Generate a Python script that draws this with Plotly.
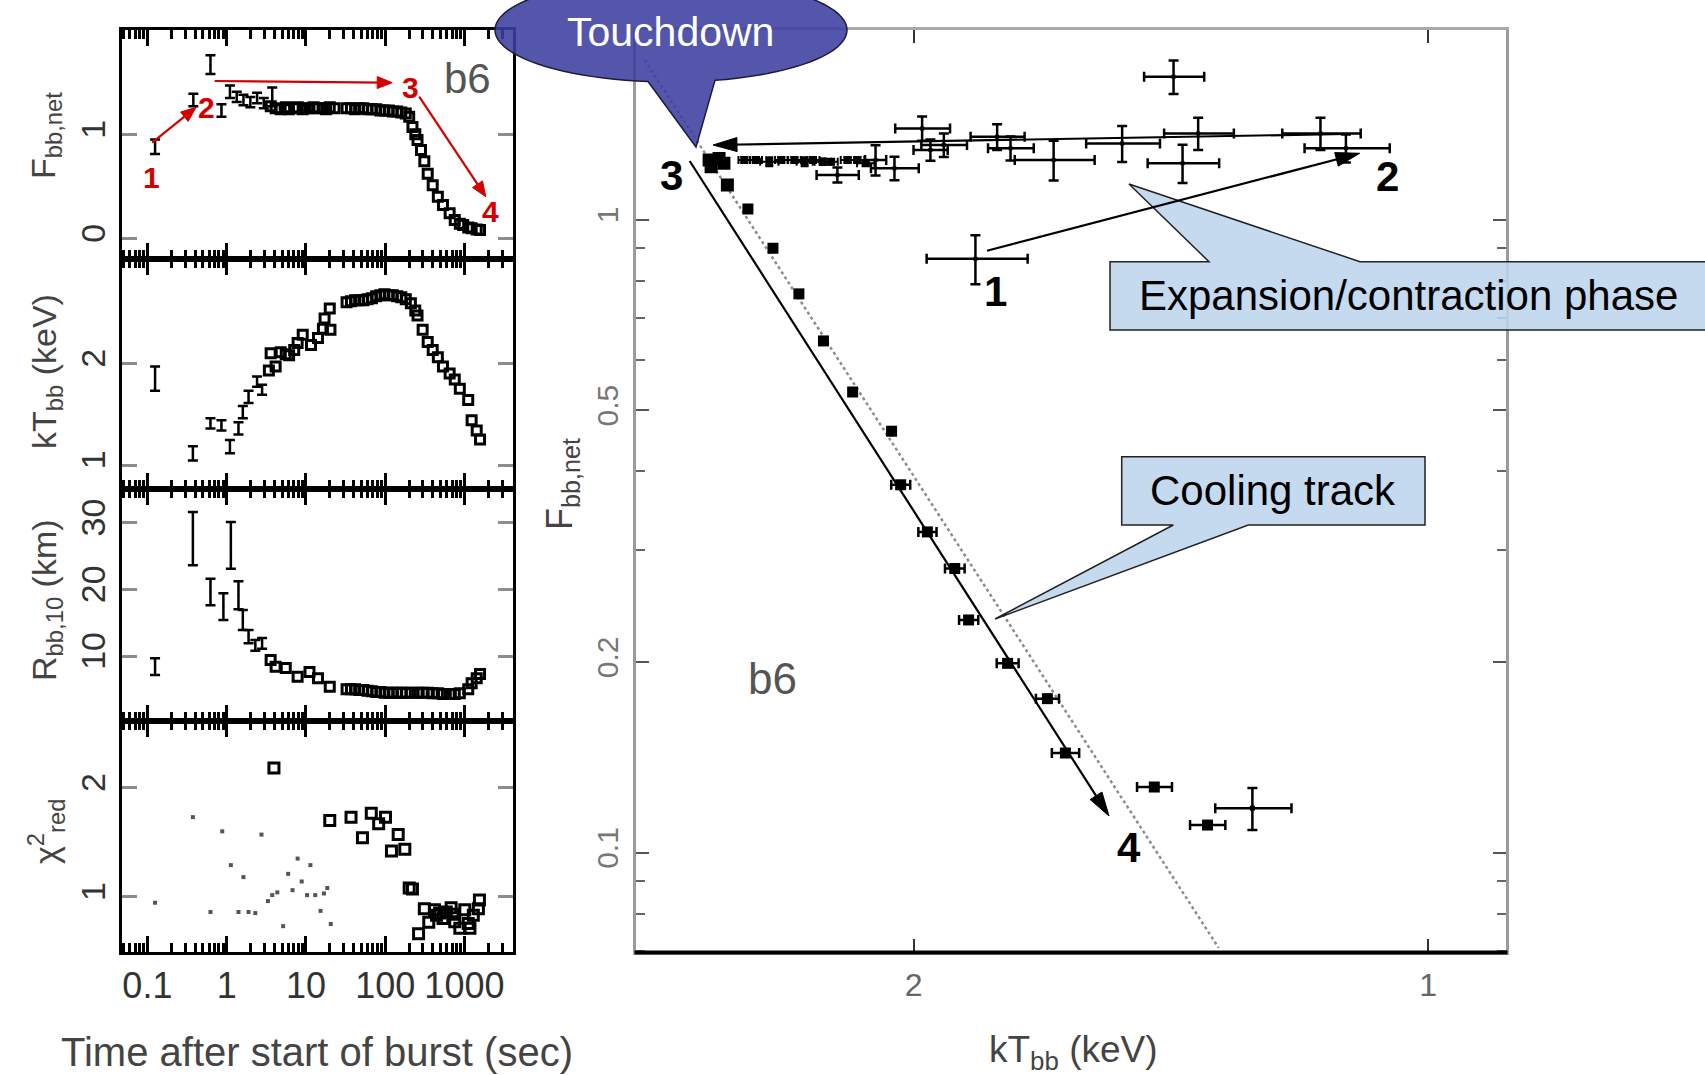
import math
import plotly.graph_objects as go

W, H = 1705, 1075
FONT = "Liberation Sans, Arial, Helvetica, sans-serif"

# ---------------- Left column: time-resolved blackbody fits (burst b6) ----------------
time_ticks = [0.1, 1, 10, 100, 1000]
time_labels = ["0.1", "1", "10", "100", "1000"]

# Bolometric flux F_bb,net
t_flux_early = [0.125, 0.38, 0.625, 0.86, 1.10, 1.34, 1.63, 1.99, 2.42, 2.94, 3.76]
flux_early = [0.88, 1.33, 1.67, 1.23, 1.41, 1.36, 1.33, 1.31, 1.35, 1.30, 1.36]
flux_early_err = [0.07, 0.06, 0.09, 0.06, 0.06, 0.05, 0.05, 0.05, 0.05, 0.05, 0.09]
t_flux = [3.6, 4.15, 4.8, 5.6, 6.1, 7.1, 7.9, 9.1, 10.0, 11.1, 12.5, 14.2, 16.4, 18.0, 20.0, 23.0,
          32.6, 37, 41.7, 47, 53, 60, 68, 77, 87, 98, 111, 125, 142, 160, 182,
          201, 221, 240, 256, 283, 312, 344, 398, 462, 536, 651, 755, 875, 966, 1117, 1233, 1429, 1574]
flux = [1.27, 1.25, 1.24, 1.26, 1.24, 1.25, 1.26, 1.24, 1.25, 1.25, 1.26, 1.25, 1.25, 1.24, 1.26, 1.25,
        1.25, 1.25, 1.24, 1.25, 1.25, 1.24, 1.24, 1.24, 1.23, 1.23, 1.23, 1.22, 1.22, 1.21, 1.20,
        1.17, 1.07, 1.00, 0.945, 0.85, 0.74, 0.62, 0.51, 0.40, 0.32, 0.24, 0.176, 0.14, 0.128, 0.105,
        0.096, 0.085, 0.08]

# Blackbody temperature kT_bb (keV)
t_kt_early = [0.125, 0.375, 0.625, 0.86, 1.10, 1.41, 1.60, 1.89, 2.42, 2.80]
kt_early = [1.85, 1.115, 1.41, 1.39, 1.18, 1.36, 1.52, 1.67, 1.82, 1.74]
kt_early_err = [0.12, 0.07, 0.05, 0.05, 0.065, 0.06, 0.06, 0.06, 0.05, 0.05]
t_kt = [3.41, 3.59, 4.15, 4.81, 5.57, 6.14, 7.12, 7.86, 9.12, 11.6, 14.2, 16.4, 17.2, 20.0, 20.4,
        32.6, 37, 41.7, 47, 53, 60, 68, 77, 87, 98, 111, 125, 142, 160, 182,
        211, 240, 256, 297, 344, 398, 462, 536, 651, 755, 875, 1117, 1233, 1429, 1574]
kt = [1.93, 2.10, 1.97, 2.11, 2.09, 2.08, 2.13, 2.20, 2.28, 2.18, 2.25, 2.34, 2.44, 2.54, 2.33,
      2.60, 2.61, 2.62, 2.62, 2.62, 2.63, 2.64, 2.66, 2.67, 2.68, 2.67, 2.67, 2.66, 2.65, 2.63,
      2.59, 2.52, 2.47, 2.33, 2.21, 2.13, 2.06, 1.97, 1.90, 1.84, 1.75, 1.64, 1.44, 1.34, 1.25]

# Blackbody radius R_bb,10 (km)
t_rad_early = [0.125, 0.375, 0.625, 0.91, 1.13, 1.41, 1.60, 1.89, 2.30, 2.80]
rad_early = [8.4, 27.6, 19.6, 17.4, 26.6, 19.1, 15.4, 12.9, 11.6, 11.9]
rad_early_err = [1.25, 4.0, 2.0, 2.0, 3.5, 2.1, 1.5, 1.0, 0.8, 0.8]
t_rad = [3.59, 4.15, 5.57, 7.86, 11.1, 14.2, 20.0,
         32.6, 37, 41.7, 47, 53, 60, 68, 77, 87, 98, 111, 125, 142, 160, 182,
         211, 256, 297, 344, 398, 462, 536, 651, 755, 875, 1117, 1233, 1429, 1574]
rad = [9.4, 8.4, 8.2, 6.9, 7.6, 6.65, 5.4,
       5.0, 5.0, 5.0, 4.9, 4.9, 4.8, 4.7, 4.6, 4.6, 4.5, 4.5, 4.5, 4.5, 4.5, 4.5,
       4.5, 4.5, 4.5, 4.5, 4.4, 4.4, 4.3, 4.3, 4.3, 4.4, 5.0, 5.9, 6.65, 7.3]

# Reduced chi-square of each fit
t_chi_dot = [0.125, 0.375, 0.625, 0.88, 1.13, 1.41, 1.63, 1.89, 2.30, 2.75, 3.32, 3.76, 4.36,
             5.16, 5.97, 6.78, 7.86, 8.85, 10.35, 11.4, 13.1, 15.3, 16.9, 18.6, 20.6]
chi_dot = [0.945, 1.73, 0.86, 1.60, 1.29, 0.86, 1.18, 0.86, 0.85, 1.57, 0.96, 1.015, 1.04,
           0.73, 1.21, 1.06, 1.35, 1.14, 1.015, 1.29, 1.015, 0.87, 1.03, 1.08, 0.75]
t_chi_sq = [3.95, 20.0, 37.1, 51.7, 66.8, 82.8, 101, 120, 146, 177, 201, 221, 264, 312, 355,
            419, 445, 486, 536, 590, 680, 720, 755, 875, 1012, 1117, 1174, 1295, 1501, 1546]
chi_sq = [2.18, 1.70, 1.73, 1.54, 1.765, 1.67, 1.73, 1.42, 1.57, 1.435, 1.08, 1.07, 0.66, 0.89, 0.765,
          0.88, 0.83, 0.85, 0.80, 0.86, 0.90, 0.84, 0.77, 0.71, 0.88, 0.755, 0.71, 0.83, 0.89, 0.97]

# ---------------- Right: flux versus temperature ----------------
flux_ticks = [0.1, 0.2, 0.5, 1]
flux_labels = ["0.1", "0.2", "0.5", "1"]
flux_minor = [0.07, 0.08, 0.09, 0.3, 0.4, 0.6, 0.7, 0.8, 0.9]
kt_ticks = [1, 2]
kt_labels = ["1", "2"]

# expansion / contraction phase
exp_kt = [1.84, 1.409, 1.392, 1.363, 1.510, 1.656, 1.755, 1.787, 1.920, 1.955, 1.977, 2.052,
          2.105, 2.216, 1.117, 1.156]
exp_flux = [0.867, 1.681, 1.227, 1.368, 1.319, 1.242, 1.296, 1.351, 1.311, 1.288, 1.393, 1.205,
            1.242, 1.176, 1.296, 1.368]
exp_kt_err = [0.125, 0.057, 0.067, 0.064, 0.075, 0.089, 0.054, 0.065, 0.059, 0.045, 0.073, 0.066,
              0.030, 0.063, 0.064, 0.061]
exp_flux_err = [0.077, 0.102, 0.085, 0.080, 0.086, 0.090, 0.057, 0.063, 0.056, 0.050, 0.061, 0.051,
                0.068, 0.032, 0.066, 0.080]
# bright, short error-bar points just before touchdown
row_kt = [2.512, 2.473, 2.429, 2.390, 2.348, 2.316, 2.290, 2.260, 2.235, 2.186, 2.157, 2.133]
row_flux = [1.242, 1.242, 1.234, 1.242, 1.242, 1.234, 1.242, 1.234, 1.234, 1.242, 1.242, 1.227]
row_kt_err = [0.02, 0.02, 0.03, 0.02, 0.02, 0.025, 0.02, 0.025, 0.02, 0.02, 0.02, 0.025]
row_flux_err = [0.012, 0.012, 0.02, 0.012, 0.012, 0.02, 0.012, 0.015, 0.012, 0.012, 0.012, 0.012]
# touchdown
td_kt = [2.634, 2.599, 2.582, 2.627, 2.570]
td_flux = [1.242, 1.249, 1.227, 1.212, 1.134]
# cooling track
cool_kt = [2.500, 2.417, 2.334, 2.258, 2.171, 2.060, 2.035, 1.963, 1.892, 1.857, 1.762, 1.670,
           1.630, 1.446, 1.346]
cool_flux = [1.039, 0.901, 0.763, 0.643, 0.534, 0.463, 0.381, 0.321, 0.281, 0.233, 0.199, 0.175,
             0.1436, 0.1269, 0.1105]
cool_kt_err = [0.0, 0.0, 0.0, 0.0, 0.0, 0.0, 0.026, 0.024, 0.025, 0.024, 0.026, 0.026,
               0.03, 0.034, 0.032]
late_kt = [1.267]
late_flux = [0.1175]
late_kt_err = [0.065]
late_flux_err = [0.009]
# F proportional to kT^4 reference line
slope_kt = [2.873, 1.326]
slope_flux = [1.787, 0.0707]


def px(x):
    return x / W


def py(y):
    return 1 - y / H


fig = go.Figure()

left_dom = [px(122), px(513)]
edges = [29.5, 258.8, 489.0, 721.0, 952.0]
EB = dict(type="data", color="black", thickness=2, width=4)
EB2 = dict(type="data", color="black", thickness=2.5, width=5)
SQ_OPEN = dict(symbol="square-open", size=9, color="black", line=dict(width=3))

# panel 1: flux
fig.add_trace(go.Scatter(x=t_flux_early, y=flux_early, mode="markers",
                         marker=dict(size=2, color="black"),
                         error_y=dict(EB2, array=flux_early_err), xaxis="x", yaxis="y"))
fig.add_trace(go.Scatter(x=t_flux, y=flux, mode="markers", marker=SQ_OPEN, xaxis="x", yaxis="y"))
# panel 2: temperature
fig.add_trace(go.Scatter(x=t_kt_early, y=kt_early, mode="markers",
                         marker=dict(size=2, color="black"),
                         error_y=dict(EB2, array=kt_early_err), xaxis="x2", yaxis="y2"))
fig.add_trace(go.Scatter(x=t_kt, y=kt, mode="markers", marker=SQ_OPEN, xaxis="x2", yaxis="y2"))
# panel 3: radius
fig.add_trace(go.Scatter(x=t_rad_early, y=rad_early, mode="markers",
                         marker=dict(size=2, color="black"),
                         error_y=dict(EB2, array=rad_early_err), xaxis="x3", yaxis="y3"))
fig.add_trace(go.Scatter(x=t_rad, y=rad, mode="markers", marker=SQ_OPEN, xaxis="x3", yaxis="y3"))
# panel 4: reduced chi-square
fig.add_trace(go.Scatter(x=t_chi_dot, y=chi_dot, mode="markers",
                         marker=dict(symbol="square", size=4, color="#555"),
                         xaxis="x4", yaxis="y4"))
fig.add_trace(go.Scatter(x=t_chi_sq, y=chi_sq, mode="markers",
                         marker=dict(symbol="square-open", size=10, color="black", line=dict(width=3)),
                         xaxis="x4", yaxis="y4"))

# right panel
fig.add_trace(go.Scatter(x=slope_kt, y=slope_flux, mode="lines",
                         line=dict(color="#8c8c8c", width=2.5, dash="dot"), xaxis="x5", yaxis="y5"))
fig.add_trace(go.Scatter(x=exp_kt, y=exp_flux, mode="markers",
                         marker=dict(symbol="square", size=4, color="black"),
                         error_x=dict(EB2, array=exp_kt_err), error_y=dict(EB2, array=exp_flux_err),
                         xaxis="x5", yaxis="y5"))
fig.add_trace(go.Scatter(x=row_kt, y=row_flux, mode="markers",
                         marker=dict(symbol="square", size=8, color="black"),
                         error_x=dict(EB, array=row_kt_err), error_y=dict(EB, array=row_flux_err),
                         xaxis="x5", yaxis="y5"))
fig.add_trace(go.Scatter(x=td_kt, y=td_flux, mode="markers",
                         marker=dict(symbol="square", size=13, color="black"),
                         xaxis="x5", yaxis="y5"))
fig.add_trace(go.Scatter(x=cool_kt, y=cool_flux, mode="markers",
                         marker=dict(symbol="square", size=11, color="black"),
                         error_x=dict(EB2, array=cool_kt_err),
                         xaxis="x5", yaxis="y5"))
fig.add_trace(go.Scatter(x=late_kt, y=late_flux, mode="markers",
                         marker=dict(symbol="square", size=5, color="black"),
                         error_x=dict(EB2, array=late_kt_err), error_y=dict(EB2, array=late_flux_err),
                         xaxis="x5", yaxis="y5"))

# ---------------- axes ----------------
minor_time = [m * 10.0 ** e for e in range(-2, 4) for m in range(2, 10)
              if 0.048 < m * 10.0 ** e < 4100]


def left_x(anchor, labels):
    return dict(type="log", range=[-1.3203, 3.6129], domain=left_dom, anchor=anchor,
                showline=True, linecolor="black", linewidth=3, mirror="ticks",
                ticks="inside", ticklen=16, tickwidth=2.5, tickcolor="black",
                tickmode="array", tickvals=time_ticks, ticktext=time_labels,
                showticklabels=labels, ticklabelstandoff=0,
                tickfont=dict(size=36, color="#333", family=FONT),
                minor=dict(ticks="inside", ticklen=9, tickwidth=2.5, tickcolor="black",
                           tickmode="array", tickvals=minor_time),
                showgrid=False, zeroline=False)


def left_y(idx, rng, vals, anchor):
    return dict(range=rng, domain=[py(edges[idx + 1]), py(edges[idx])], anchor=anchor,
                showline=True, linecolor="black", linewidth=3, mirror="ticks",
                ticks="inside", ticklen=15, tickwidth=3, tickcolor="#8c8c8c",
                tickmode="array", tickvals=vals, tickangle=-90, ticklabelstandoff=0,
                tickfont=dict(size=34, color="#333", family=FONT),
                showgrid=False, zeroline=False)


fig.update_layout(
    xaxis=left_x("y", False), yaxis=left_y(0, [-0.197, 2.008], [0, 1], "x"),
    xaxis2=left_x("y2", False), yaxis2=left_y(1, [0.764, 3.028], [1, 2], "x2"),
    xaxis3=left_x("y3", False), yaxis3=left_y(2, [0.255, 35.04], [10, 20, 30], "x3"),
    xaxis4=left_x("y4", True), yaxis4=left_y(3, [0.493, 2.612], [1, 2], "x4"),
    xaxis5=dict(type="log", range=[0.4634, -0.0456], domain=[px(636), px(1506)], anchor="y5",
                showline=True, linecolor="#a8a8a8", linewidth=3, mirror="ticks",
                ticks="inside", ticklen=13, tickwidth=2, tickcolor="#333",
                tickmode="array", tickvals=kt_ticks, ticktext=kt_labels, ticklabelstandoff=3,
                tickfont=dict(size=32, color="#666", family=FONT),
                showgrid=False, zeroline=False),
    yaxis5=dict(type="log", range=[-1.1572, 0.3002], domain=[py(952), py(29.5)], anchor="x5",
                showline=True, linecolor="#9a9a9a", linewidth=3, mirror="ticks",
                ticks="inside", ticklen=13, tickwidth=2, tickcolor="#555",
                tickmode="array", tickvals=flux_ticks, ticktext=flux_labels, tickangle=-90,
                ticklabelstandoff=3, tickfont=dict(size=30, color="#777", family=FONT),
                minor=dict(ticks="inside", ticklen=9, tickwidth=2, tickcolor="#666",
                           tickmode="array", tickvals=flux_minor),
                showgrid=False, zeroline=False),
)

# ---------------- callout and arrow shapes ----------------


def path_str(points):
    return "M " + " L ".join(f"{px(x):.5f},{py(y):.5f}" for x, y in points) + " Z"


def bubble(cx, cy, rx, ry, base_left_x, base_right_x, tip, n=90):
    def angle(bx):
        dx = (bx - cx) / rx
        return math.atan2(math.sqrt(max(0.0, 1 - dx * dx)), dx)
    a0 = angle(base_right_x)
    a1 = angle(base_left_x) - 2 * math.pi
    pts = []
    for i in range(n + 1):
        a = a0 + (a1 - a0) * i / n
        pts.append((cx + rx * math.cos(a), cy + ry * math.sin(a)))
    pts.append(tip)
    return path_str(pts)


def arrow(head, tail, color, width, head_len, head_wid):
    hx, hy = head
    tx, ty = tail
    d = math.hypot(hx - tx, hy - ty)
    ux, uy = (hx - tx) / d, (hy - ty) / d
    bx, by = hx - head_len * ux, hy - head_len * uy
    nx, ny = -uy, ux
    line_end = (hx - 0.6 * head_len * ux, hy - 0.6 * head_len * uy)
    return [
        dict(type="line", xref="paper", yref="paper", x0=px(tx), y0=py(ty),
             x1=px(line_end[0]), y1=py(line_end[1]), line=dict(color=color, width=width), layer="above"),
        dict(type="path", xref="paper", yref="paper",
             path=path_str([(hx, hy), (bx + nx * head_wid / 2, by + ny * head_wid / 2),
                            (bx - nx * head_wid / 2, by - ny * head_wid / 2)]),
             fillcolor=color, line=dict(color=color, width=1), layer="above"),
    ]


RED = "#d40000"
shapes = [
    # bottom axis of the right panel drawn black
    dict(type="line", xref="paper", yref="paper", x0=px(634.5), x1=px(1507.5), y0=py(952.5), y1=py(952.5),
         line=dict(color="black", width=4), layer="above"),
    dict(type="path", xref="paper", yref="paper",
         path=bubble(671, 30, 176, 52, 648, 715, (696, 147)),
         fillcolor="rgba(60,63,160,0.88)", line=dict(color="#1c1c3c", width=1.5), layer="above"),
    dict(type="path", xref="paper", yref="paper",
         path=path_str([(1110, 261.7), (1209, 261.7), (1129, 184), (1360, 261.7), (1760, 261.7),
                        (1760, 330), (1110, 330)]),
         fillcolor="rgba(189,213,236,0.88)", line=dict(color="#222", width=1.5), layer="above"),
    dict(type="path", xref="paper", yref="paper",
         path=path_str([(1121.7, 456.7), (1425, 456.7), (1425, 525), (1248.3, 525), (995, 619),
                        (1173.3, 525), (1121.7, 525)]),
         fillcolor="rgba(189,213,236,0.88)", line=dict(color="#222", width=1.5), layer="above"),
]
shapes += arrow((196.1, 107.3), (152.1, 142.7), RED, 2.2, 15, 12)
shapes += arrow((392.2, 82.7), (214.7, 81.0), RED, 2.2, 15, 12)
shapes += arrow((485.8, 196.7), (419.2, 96.7), RED, 2.2, 15, 12)
shapes += arrow((1359.7, 153.3), (987, 250.7), "black", 2.2, 24, 14)
shapes += arrow((713, 145), (1345, 134), "black", 2.2, 24, 14)
shapes += arrow((1109, 816), (689.7, 161), "black", 2.2, 24, 14)

# ---------------- text ----------------
ann = []


def text(x, y, s, size, color="black", bold=False, angle=0, xanchor="center"):
    if bold:
        s = f"<b>{s}</b>"
    ann.append(dict(x=px(x), y=py(y), xref="paper", yref="paper", text=s, showarrow=False,
                    textangle=angle, xanchor=xanchor, yanchor="middle",
                    font=dict(size=size, color=color, family=FONT)))


text(151, 177, "1", 30, RED, bold=True)
text(206, 108, "2", 30, RED, bold=True)
text(410, 87, "3", 30, RED, bold=True)
text(490, 211, "4", 30, RED, bold=True)
text(467, 78, "b6", 42, "#555")

text(671, 175, "3", 42, bold=True)
text(1387, 176, "2", 42, bold=True)
text(995, 291, "1", 42, bold=True)
text(1129, 847, "4", 42, bold=True)
text(772, 678, "b6", 44, "#555")

text(670, 32, "Touchdown", 41, "white")
text(1137, 296, "Expansion/contraction phase", 42, "black", xanchor="left")
text(1273, 491, "Cooling track", 42, "black")

# axis titles
text(46, 136, "F<sub>bb,net</sub>", 34, "#444", angle=-90)
text(46, 372, "kT<sub>bb</sub> (keV)", 34, "#444", angle=-90)
text(46, 600, "R<sub>bb,10</sub> (km)", 34, "#444", angle=-90)
text(46, 831, "χ<sup>2</sup><sub>red</sub>", 34, "#444", angle=-90)
text(317, 1052, "Time after start of burst (sec)", 40, "#444")
text(1073, 1052, "kT<sub>bb</sub> (keV)", 37, "#444")
text(562, 484, "F<sub>bb,net</sub>", 36, "#444", angle=-90)

fig.update_layout(
    width=W, height=H, autosize=False,
    margin=dict(l=0, r=0, t=0, b=0),
    paper_bgcolor="white", plot_bgcolor="white",
    showlegend=False,
    font=dict(family=FONT, color="black"),
    shapes=shapes, annotations=ann,
)

fig.write_html("out.html")
